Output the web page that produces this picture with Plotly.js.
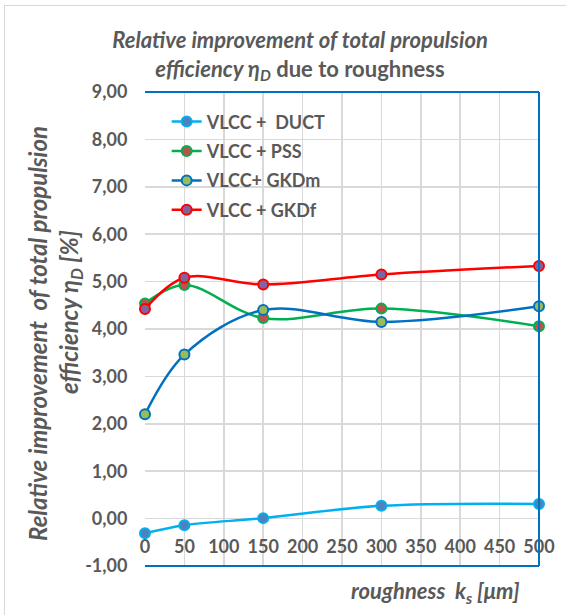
<!DOCTYPE html>
<html>
<head>
<meta charset="utf-8">
<script src="https://cdn.plot.ly/plotly-3.0.1.min.js"></script>
<style>
html,body{margin:0;padding:0;background:#fff;}
#wrap{position:relative;width:566px;height:615px;overflow:hidden;}
#chart{position:absolute;left:0;top:0;width:566px;height:615px;}
#frame{position:absolute;left:4px;top:5px;width:580px;height:640px;border:1.5px solid #D9D9D9;pointer-events:none;}
</style>
</head>
<body>
<div id="wrap"><div id="chart"></div><div id="frame"></div></div>
<script>
// Data
var roughness = [0, 50, 150, 300, 500];
var seriesNames = ['VLCC +\u00a0 DUCT', 'VLCC + PSS', 'VLCC+ GKDm', 'VLCC + GKDf'];
var ductValues = [-0.31, -0.14, 0.01, 0.27, 0.31];
var pssValues = [4.54, 4.93, 4.23, 4.43, 4.06];
var gkdmValues = [2.20, 3.46, 4.40, 4.15, 4.48];
var gkdfValues = [4.42, 5.08, 4.94, 5.15, 5.33];
var yTickValues = [-1, 0, 1, 2, 3, 4, 5, 6, 7, 8, 9];
var yTickLabels = ['-1,00', '0,00', '1,00', '2,00', '3,00', '4,00', '5,00', '6,00', '7,00', '8,00', '9,00'];
var xTickValues = [0, 50, 100, 150, 200, 250, 300, 350, 400, 450, 500];

var FONT = 'Lato, "Open Sans", sans-serif';
var GREY = '#595959';
var lineColors = ['#00B0F0', '#00B050', '#0070C0', '#FF0000'];
var fillColors = ['#4F81BD', '#C0504D', '#9BBB59', '#8064A2'];
var allValues = [ductValues, pssValues, gkdmValues, gkdfValues];

var traces = allValues.map(function (vals, i) {
  return {
    x: roughness,
    y: vals,
    name: seriesNames[i],
    legendgroup: 'g' + i,
    type: 'scatter',
    mode: 'lines+markers',
    cliponaxis: false,
    line: {color: lineColors[i], width: 2.5, shape: 'spline', smoothing: 1},
    marker: {size: 10, color: fillColors[i], line: {color: lineColors[i], width: 2}}
  };
});

var layout = {
  width: 566, height: 615,
  margin: {l: 145, r: 27, t: 92, b: 49},
  paper_bgcolor: '#ffffff', plot_bgcolor: '#ffffff',
  font: {family: FONT, color: GREY},
  showlegend: true,
  title: {
    text: '<b><i>Relative improvement of total propulsion</i></b><br><b><i>efficiency \u03b7<sub>D</sub></i> due to roughness</b>',
    font: {family: FONT, size: 22, color: GREY},
    x: 300 / 566, xanchor: 'center', xref: 'container',
    y: 1 - 48 / 615, yanchor: 'middle', yref: 'container'
  },
  legend: {
    x: 0.055, y: 0.976, xanchor: 'left', yanchor: 'top',
    bgcolor: 'rgba(0,0,0,0)',
    font: {family: FONT, size: 18, color: GREY, weight: 'bold'},
    tracegroupgap: 3
  },
  xaxis: {
    range: [0, 500],
    tickvals: xTickValues,
    showgrid: true, gridcolor: '#D9D9D9', gridwidth: 1.5,
    zeroline: false, showline: false,
    anchor: 'free', position: 0.1,
    ticks: 'outside', ticklen: 12, tickcolor: 'rgba(0,0,0,0)',
    tickfont: {family: FONT, size: 18, color: GREY, weight: 'bold'}
  },
  yaxis: {
    range: [-1, 9],
    tickvals: yTickValues, ticktext: yTickLabels,
    showgrid: true, gridcolor: '#D9D9D9', gridwidth: 1.5,
    zeroline: false, showline: false,
    ticks: 'outside', ticklen: 13, tickcolor: 'rgba(0,0,0,0)',
    tickfont: {family: FONT, size: 18, color: GREY, weight: 'bold'}
  },
  shapes: [
    {type: 'line', xref: 'paper', yref: 'paper', x0: 0, x1: 1, y0: 1, y1: 1, line: {color: '#0070C0', width: 2}},
    {type: 'line', xref: 'paper', yref: 'paper', x0: 1, x1: 1, y0: 0, y1: 1, line: {color: '#0070C0', width: 2}},
    {type: 'line', xref: 'paper', yref: 'paper', x0: 0, x1: 1, y0: 0, y1: 0, line: {color: '#0070C0', width: 2}}
  ],
  annotations: [
    {text: '<b><i>roughness\u00a0 k<sub>s</sub> [\u03bcm]</i></b>', xref: 'paper', yref: 'paper',
     x: (435 - 145) / 394, y: (566 - 592) / 474, xanchor: 'center', yanchor: 'middle',
     showarrow: false, font: {family: FONT, size: 22, color: GREY}},
    {text: '<b><i>Relative improvement\u00a0 of total propulsion</i></b>', xref: 'paper', yref: 'paper',
     x: (37 - 145) / 394, y: (566 - 334) / 474, xanchor: 'center', yanchor: 'middle', textangle: -90,
     showarrow: false, font: {family: FONT, size: 24, color: GREY}},
    {text: '<b><i>efficiency \u03b7<sub>D</sub> [%]</i></b>', xref: 'paper', yref: 'paper',
     x: (70 - 145) / 394, y: (566 - 312) / 474, xanchor: 'center', yanchor: 'middle', textangle: -90,
     showarrow: false, font: {family: FONT, size: 24, color: GREY}}
  ]
};

Plotly.newPlot('chart', traces, layout, {displayModeBar: false, staticPlot: true});
</script>
</body>
</html>
